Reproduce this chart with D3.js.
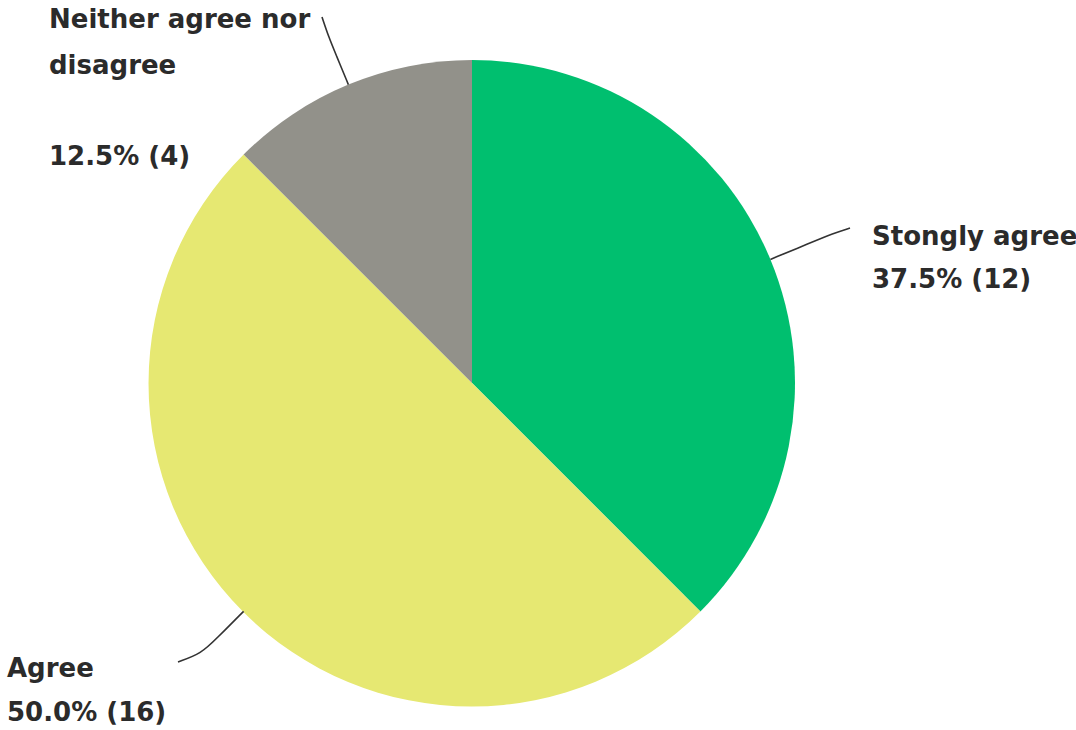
<!DOCTYPE html>
<html><head><meta charset="utf-8">
<script src="https://cdn.jsdelivr.net/npm/d3@7"></script>
<style>html,body{margin:0;padding:0;background:#fff;overflow:hidden}</style>
</head><body>
<svg id="c" width="1076" height="730"></svg>
<script>
const categories = ["Stongly agree", "Agree", "Neither agree nor disagree"];
const counts = [12, 16, 4];
const percents = ["37.5%", "50.0%", "12.5%"];
const colors = ["#00bf6f", "#e6e872", "#92918a"];

const svg = d3.select("#c");
const cx = 472, cy = 383, R = 323;
const g = svg.append("g").attr("transform", `translate(${cx},${cy})`);
const pie = d3.pie().sort(null).value(d => d)(counts);
const arc = d3.arc().innerRadius(0).outerRadius(R);

g.selectAll("path.slice").data(pie).join("path")
  .attr("class", "slice")
  .attr("d", arc)
  .attr("fill", (d, i) => colors[i]);

// label layout per slice (index order)
const layout = [
  {ext: 80, end: [378, -155], tx: 400, ty: -138, lines: [categories[0], percents[0] + " (" + counts[0] + ")"], lh: 43},
  {ext: 70, end: [-294, 279], tx: -465, ty: 294, lines: ["Agree", percents[1] + " (" + counts[1] + ")"], lh: 44},
  {ext: 60, end: [-150, -366], tx: -423, ty: -355, lines: ["Neither agree nor", "disagree", "", percents[2] + " (" + counts[2] + ")"], lh: 45.5}
];

const line = d3.line().curve(d3.curveBasis);
pie.forEach((d, i) => {
  const a = (d.startAngle + d.endAngle) / 2;
  const L = layout[i];
  const p0 = [R * Math.sin(a), -R * Math.cos(a)];
  const p1 = [(R + L.ext * 0.55) * Math.sin(a), -(R + L.ext * 0.55) * Math.cos(a)];
  const p2 = [(R + L.ext * 0.85) * Math.sin(a), -(R + L.ext * 0.85) * Math.cos(a)];
  g.append("path")
    .attr("d", line([p0, p1, p2, L.end]))
    .attr("fill", "none")
    .attr("stroke", "#333")
    .attr("stroke-width", 1.6);
  const t = g.append("text")
    .attr("x", L.tx).attr("y", L.ty)
    .attr("fill", "#2b2b2b")
    .style("font-family", "'DejaVu Sans', sans-serif")
    .style("font-weight", "bold")
    .style("font-size", "26px");
  L.lines.forEach((ln, k) => {
    t.append("tspan").attr("x", L.tx).attr("y", L.ty + k * L.lh).text(ln);
  });
});
</script>
</body></html>
